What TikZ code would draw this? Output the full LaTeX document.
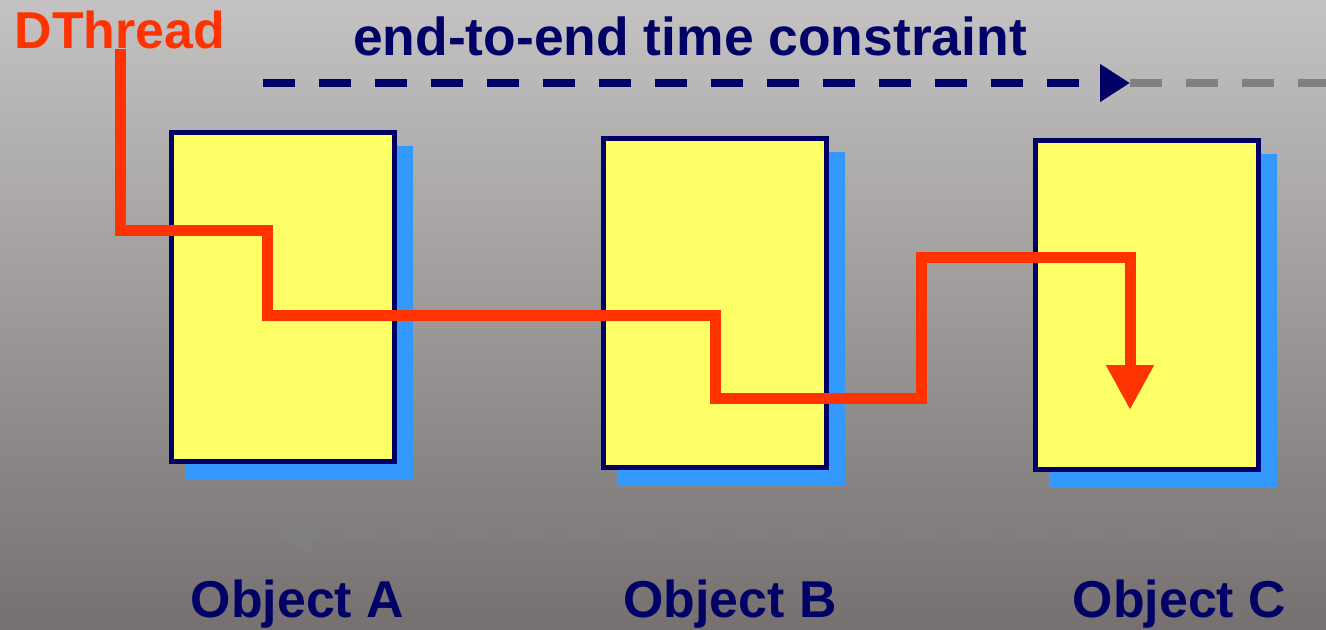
\documentclass[tikz,border=0pt]{standalone}
\usepackage{fontspec}
\setmainfont{Liberation Sans}
\usepackage{xcolor}
\usepackage{tikz}
\usetikzlibrary{positioning, arrows.meta, shadows}

\definecolor{navyblue}{RGB}{0,0,102}
\definecolor{boxyellow}{RGB}{255,255,102}
\definecolor{shadowblue}{RGB}{51,153,255}
\definecolor{threadred}{RGB}{255,51,0}
\definecolor{slackgray}{RGB}{128,128,128}
\definecolor{bgtop}{RGB}{196,194,194}
\definecolor{bgbottom}{RGB}{118,112,112}

\begin{document}
\begin{tikzpicture}[
        >=stealth,
        every node/.style={font=\bfseries\fontsize{29.5}{35}\selectfont},
        objbox/.style={draw=navyblue, line width=0.1cm, fill=boxyellow, minimum width=4.46cm, minimum height=6.58cm, drop shadow={shadow xshift=0.32cm, shadow yshift=-0.32cm, fill=shadowblue, draw=shadowblue, line width=0.1cm, opacity=1}},
        objlabel/.style={text=navyblue, anchor=base},
        thread/.style={draw=threadred, line width=0.22cm, -{Triangle[length=0.9cm, width=0.9cm]}},
        timeline/.style={draw=navyblue, line width=0.16cm, dash pattern=on 0.64cm off 0.48cm, -{Triangle[length=0.6cm, width=0.72cm]}},
        slackline/.style={draw=slackgray, line width=0.16cm, dash pattern=on 0.64cm off 0.48cm}
    ]
        % Background
        \fill [top color=bgtop, bottom color=bgbottom] (0,0) rectangle (26.52,-12.58);
        \useasboundingbox (0,0) rectangle (26.52,-12.58);

        % Nodes
        \node (objA) [objbox] at (5.66,-5.94) {};
        \node (objB) [objbox] at (14.30,-6.06) {};
        \node (objC) [objbox] at (22.94,-6.09) {};
        \node (labelA) [objlabel] at (5.95,-12.34) {Object A};
        \node (labelB) [objlabel] at (14.60,-12.34) {Object B};
        \node (labelC) [objlabel] at (23.59,-12.34) {Object C};
        \node (dthread) [text=threadred, anchor=base, inner sep=0pt] at (2.40,-0.96) {DThread};
        \node (deadline) [text=navyblue, anchor=base, font=\bfseries\fontsize{30.4}{36}\selectfont] at (13.80,-1.10) {end-to-end time constraint};

        \coordinate (tstart) at (5.26,-1.66);
        \coordinate (tdead) at (22.60,-1.66);
        \coordinate (tright) at (26.60,-1.66);
        \coordinate (sright) at (26.60,-10.70);
        \coordinate (sleft) at (5.52,-10.70);
        \coordinate (tend) at (22.60,-8.20);

        % Arrows
        \draw [timeline] (tstart) -- (tdead);
        \draw [slackline] (tdead) -- (tright);
        \draw [slackline, -{Triangle[length=0.72cm, width=0.7cm]}] (sright) -- (sleft);

        % Thread
        \draw [thread] (dthread.south) -- ++(0,-3.64) -| (5.34,-6.30) -| (14.30,-7.96) -| (18.42,-5.14) -| (tend);
    \end{tikzpicture}
\end{document}
